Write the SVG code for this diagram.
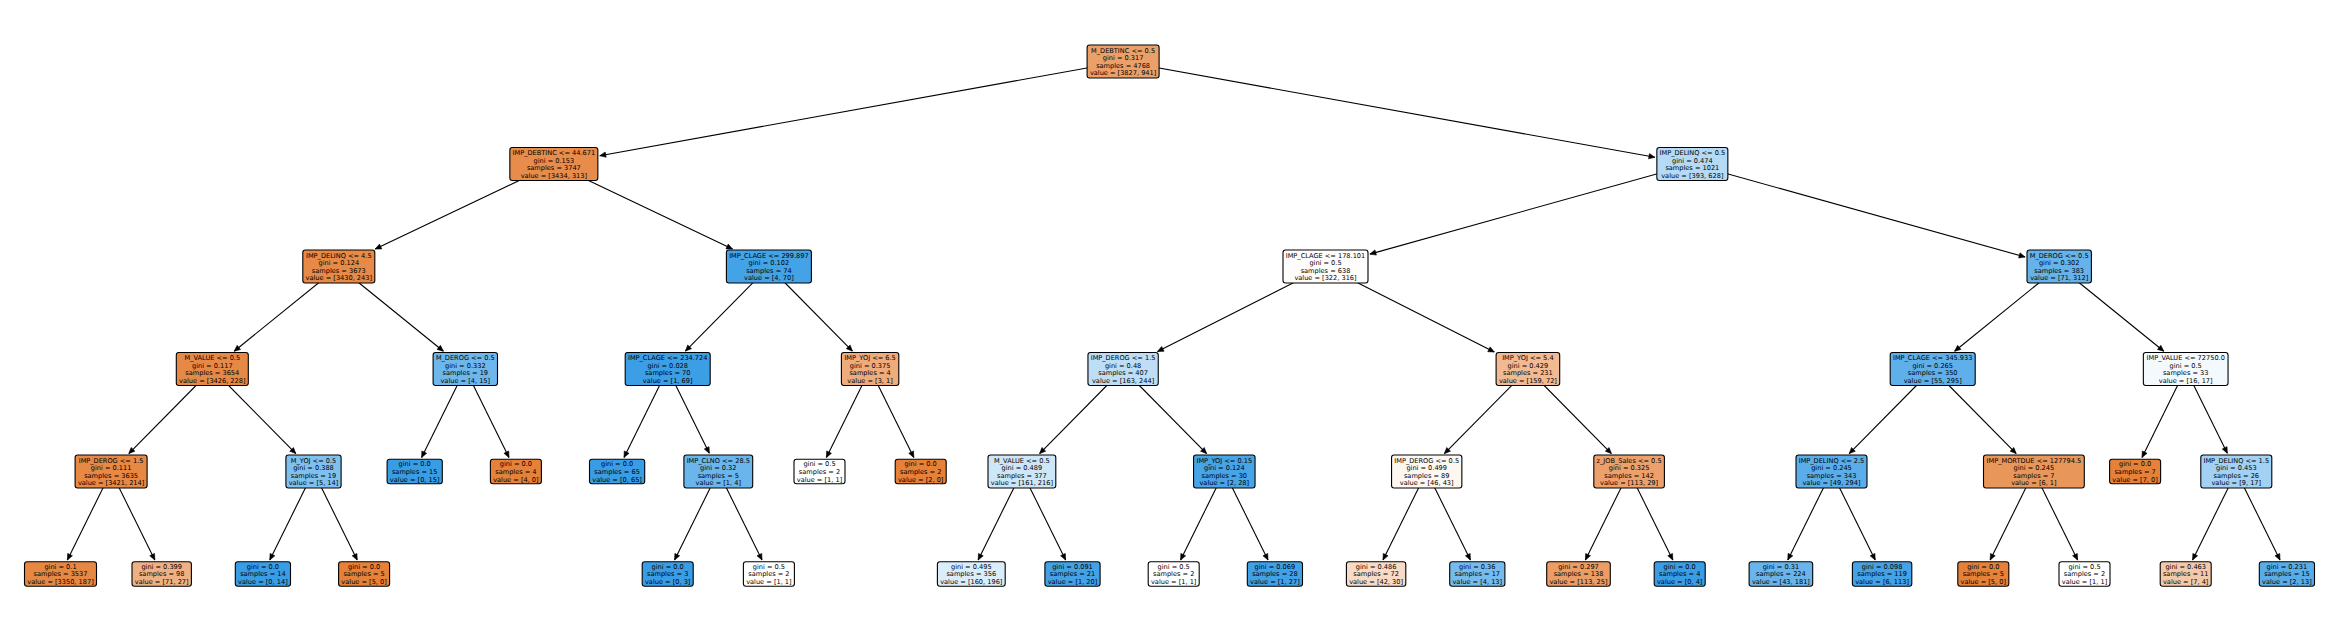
<svg xmlns="http://www.w3.org/2000/svg" width="2345" height="636" viewBox="0 0 2345 636">
<style>
.bg{fill:#ffffff}
.n rect{stroke:#000;stroke-width:1.1}
.n text{font-family:"DejaVu Sans","Liberation Sans",sans-serif;font-size:6.6px;fill:#000;text-anchor:middle}
.e line{stroke:#000;stroke-width:1.1;marker-end:url(#ah)}
</style>
<defs>
<marker id="ah" markerUnits="userSpaceOnUse" markerWidth="8" markerHeight="8" refX="0" refY="0" viewBox="-5 -3 6 6" orient="auto" overflow="visible">
<path d="M-4.5,-2 L0,0 L-4.5,2 Z" fill="#000" stroke="#000" stroke-width="0.4"/>
</marker>
</defs>
<rect class="bg" x="0" y="0" width="2345" height="636"/>
<g id="connectors" class="e">
<line x1="1123.1" y1="61.5" x2="599.8" y2="155.7"/>
<line x1="1123.1" y1="61.5" x2="1654.9" y2="157.3"/>
<line x1="553.85" y1="164" x2="375.2" y2="249.1"/>
<line x1="553.85" y1="164" x2="732.5" y2="249.1"/>
<line x1="1692.35" y1="164" x2="1369.9" y2="254.1"/>
<line x1="1692.35" y1="164" x2="2025.1" y2="257"/>
<line x1="338.8" y1="266.5" x2="234.2" y2="351.2"/>
<line x1="338.8" y1="266.5" x2="443.4" y2="351.2"/>
<line x1="768.9" y1="266.5" x2="685.4" y2="351.1"/>
<line x1="768.9" y1="266.5" x2="852.4" y2="351.1"/>
<line x1="1325.5" y1="266.5" x2="1157.5" y2="351.6"/>
<line x1="1325.5" y1="266.5" x2="1494.3" y2="352"/>
<line x1="2059.2" y1="266.5" x2="1954.6" y2="351.2"/>
<line x1="2059.2" y1="266.5" x2="2163.8" y2="351.2"/>
<line x1="212.3" y1="369" x2="128.8" y2="453.6"/>
<line x1="212.3" y1="369" x2="295.8" y2="453.6"/>
<line x1="465.3" y1="369" x2="421.6" y2="457.5"/>
<line x1="465.3" y1="369" x2="509" y2="457.5"/>
<line x1="667.7" y1="369" x2="624" y2="457.5"/>
<line x1="667.7" y1="369" x2="709.3" y2="453.2"/>
<line x1="870.1" y1="369" x2="826.4" y2="457.5"/>
<line x1="870.1" y1="369" x2="913.8" y2="457.5"/>
<line x1="1123.1" y1="369" x2="1039.6" y2="453.6"/>
<line x1="1123.1" y1="369" x2="1206.6" y2="453.6"/>
<line x1="1527.9" y1="369" x2="1444.4" y2="453.6"/>
<line x1="1527.9" y1="369" x2="1611.4" y2="453.6"/>
<line x1="1932.7" y1="369" x2="1849.2" y2="453.6"/>
<line x1="1932.7" y1="369" x2="2016.2" y2="453.6"/>
<line x1="2185.7" y1="369" x2="2142" y2="457.5"/>
<line x1="2185.7" y1="369" x2="2227.3" y2="453.2"/>
<line x1="111.1" y1="471.5" x2="67.4" y2="560"/>
<line x1="111.1" y1="471.5" x2="154.8" y2="560"/>
<line x1="313.5" y1="471.5" x2="269.8" y2="560"/>
<line x1="313.5" y1="471.5" x2="357.2" y2="560"/>
<line x1="718.3" y1="471.5" x2="674.6" y2="560"/>
<line x1="718.3" y1="471.5" x2="762" y2="560"/>
<line x1="1021.9" y1="471.5" x2="978.2" y2="560"/>
<line x1="1021.9" y1="471.5" x2="1065.6" y2="560"/>
<line x1="1224.3" y1="471.5" x2="1180.6" y2="560"/>
<line x1="1224.3" y1="471.5" x2="1268" y2="560"/>
<line x1="1426.7" y1="471.5" x2="1383" y2="560"/>
<line x1="1426.7" y1="471.5" x2="1470.4" y2="560"/>
<line x1="1629.1" y1="471.5" x2="1585.4" y2="560"/>
<line x1="1629.1" y1="471.5" x2="1672.8" y2="560"/>
<line x1="1831.5" y1="471.5" x2="1787.8" y2="560"/>
<line x1="1831.5" y1="471.5" x2="1875.2" y2="560"/>
<line x1="2033.9" y1="471.5" x2="1990.2" y2="560"/>
<line x1="2033.9" y1="471.5" x2="2077.6" y2="560"/>
<line x1="2236.3" y1="471.5" x2="2192.6" y2="560"/>
<line x1="2236.3" y1="471.5" x2="2280" y2="560"/>
</g>
<g id="n0" class="n"><rect x="1087.1" y="45" width="72" height="33" rx="2.5" fill="#eba06a"/><text y="52.5"><tspan x="1123.1">M_DEBTINC &lt;= 0.5</tspan><tspan x="1123.1" dy="7.6">gini = 0.317</tspan><tspan x="1123.1" dy="7.6">samples = 4768</tspan><tspan x="1123.1" dy="7.6">value = [3827, 941]</tspan></text></g>
<g id="n1" class="n"><rect x="509.85" y="147.5" width="88" height="33" rx="2.5" fill="#e78c4b"/><text y="155"><tspan x="553.85">IMP_DEBTINC &lt;= 44.671</tspan><tspan x="553.85" dy="7.6">gini = 0.153</tspan><tspan x="553.85" dy="7.6">samples = 3747</tspan><tspan x="553.85" dy="7.6">value = [3434, 313]</tspan></text></g>
<g id="n2" class="n"><rect x="1656.85" y="147.5" width="71" height="33" rx="2.5" fill="#b5daf5"/><text y="155"><tspan x="1692.35">IMP_DELINQ &lt;= 0.5</tspan><tspan x="1692.35" dy="7.6">gini = 0.474</tspan><tspan x="1692.35" dy="7.6">samples = 1021</tspan><tspan x="1692.35" dy="7.6">value = [393, 628]</tspan></text></g>
<g id="n3" class="n"><rect x="302.8" y="250" width="72" height="33" rx="2.5" fill="#e78a47"/><text y="257.5"><tspan x="338.8">IMP_DELINQ &lt;= 4.5</tspan><tspan x="338.8" dy="7.6">gini = 0.124</tspan><tspan x="338.8" dy="7.6">samples = 3673</tspan><tspan x="338.8" dy="7.6">value = [3430, 243]</tspan></text></g>
<g id="n4" class="n"><rect x="726.4" y="250" width="85" height="33" rx="2.5" fill="#44a3e6"/><text y="257.5"><tspan x="768.9">IMP_CLAGE &lt;= 299.897</tspan><tspan x="768.9" dy="7.6">gini = 0.102</tspan><tspan x="768.9" dy="7.6">samples = 74</tspan><tspan x="768.9" dy="7.6">value = [4, 70]</tspan></text></g>
<g id="n5" class="n"><rect x="1283" y="250" width="85" height="33" rx="2.5" fill="#fffdfb"/><text y="257.5"><tspan x="1325.5">IMP_CLAGE &lt;= 178.101</tspan><tspan x="1325.5" dy="7.6">gini = 0.5</tspan><tspan x="1325.5" dy="7.6">samples = 638</tspan><tspan x="1325.5" dy="7.6">value = [322, 316]</tspan></text></g>
<g id="n6" class="n"><rect x="2027" y="250" width="64.4" height="33" rx="2.5" fill="#66b3eb"/><text y="257.5"><tspan x="2059.2">M_DEROG &lt;= 0.5</tspan><tspan x="2059.2" dy="7.6">gini = 0.302</tspan><tspan x="2059.2" dy="7.6">samples = 383</tspan><tspan x="2059.2" dy="7.6">value = [71, 312]</tspan></text></g>
<g id="n7" class="n"><rect x="176.3" y="352.5" width="72" height="33" rx="2.5" fill="#e78946"/><text y="360"><tspan x="212.3">M_VALUE &lt;= 0.5</tspan><tspan x="212.3" dy="7.6">gini = 0.117</tspan><tspan x="212.3" dy="7.6">samples = 3654</tspan><tspan x="212.3" dy="7.6">value = [3426, 228]</tspan></text></g>
<g id="n8" class="n"><rect x="433.1" y="352.5" width="64.4" height="33" rx="2.5" fill="#6eb7ec"/><text y="360"><tspan x="465.3">M_DEROG &lt;= 0.5</tspan><tspan x="465.3" dy="7.6">gini = 0.332</tspan><tspan x="465.3" dy="7.6">samples = 19</tspan><tspan x="465.3" dy="7.6">value = [4, 15]</tspan></text></g>
<g id="n9" class="n"><rect x="625.2" y="352.5" width="85" height="33" rx="2.5" fill="#3c9ee5"/><text y="360"><tspan x="667.7">IMP_CLAGE &lt;= 234.724</tspan><tspan x="667.7" dy="7.6">gini = 0.028</tspan><tspan x="667.7" dy="7.6">samples = 70</tspan><tspan x="667.7" dy="7.6">value = [1, 69]</tspan></text></g>
<g id="n10" class="n"><rect x="841.4" y="352.5" width="57.4" height="33" rx="2.5" fill="#eeab7b"/><text y="360"><tspan x="870.1">IMP_YOJ &lt;= 6.5</tspan><tspan x="870.1" dy="7.6">gini = 0.375</tspan><tspan x="870.1" dy="7.6">samples = 4</tspan><tspan x="870.1" dy="7.6">value = [3, 1]</tspan></text></g>
<g id="n11" class="n"><rect x="1087.95" y="352.5" width="70.3" height="33" rx="2.5" fill="#bddef6"/><text y="360"><tspan x="1123.1">IMP_DEROG &lt;= 1.5</tspan><tspan x="1123.1" dy="7.6">gini = 0.48</tspan><tspan x="1123.1" dy="7.6">samples = 407</tspan><tspan x="1123.1" dy="7.6">value = [163, 244]</tspan></text></g>
<g id="n12" class="n"><rect x="1496.1" y="352.5" width="63.6" height="33" rx="2.5" fill="#f1ba93"/><text y="360"><tspan x="1527.9">IMP_YOJ &lt;= 5.4</tspan><tspan x="1527.9" dy="7.6">gini = 0.429</tspan><tspan x="1527.9" dy="7.6">samples = 231</tspan><tspan x="1527.9" dy="7.6">value = [159, 72]</tspan></text></g>
<g id="n13" class="n"><rect x="1890.2" y="352.5" width="85" height="33" rx="2.5" fill="#5eafea"/><text y="360"><tspan x="1932.7">IMP_CLAGE &lt;= 345.933</tspan><tspan x="1932.7" dy="7.6">gini = 0.265</tspan><tspan x="1932.7" dy="7.6">samples = 350</tspan><tspan x="1932.7" dy="7.6">value = [55, 295]</tspan></text></g>
<g id="n14" class="n"><rect x="2143.35" y="352.5" width="84.7" height="33" rx="2.5" fill="#f3f9fd"/><text y="360"><tspan x="2185.7">IMP_VALUE &lt;= 72750.0</tspan><tspan x="2185.7" dy="7.6">gini = 0.5</tspan><tspan x="2185.7" dy="7.6">samples = 33</tspan><tspan x="2185.7" dy="7.6">value = [16, 17]</tspan></text></g>
<g id="n15" class="n"><rect x="75.1" y="455" width="72" height="33" rx="2.5" fill="#e78945"/><text y="462.5"><tspan x="111.1">IMP_DEROG &lt;= 1.5</tspan><tspan x="111.1" dy="7.6">gini = 0.111</tspan><tspan x="111.1" dy="7.6">samples = 3635</tspan><tspan x="111.1" dy="7.6">value = [3421, 214]</tspan></text></g>
<g id="n16" class="n"><rect x="285.9" y="455" width="55.2" height="33" rx="2.5" fill="#80c0ee"/><text y="462.5"><tspan x="313.5">M_YOJ &lt;= 0.5</tspan><tspan x="313.5" dy="7.6">gini = 0.388</tspan><tspan x="313.5" dy="7.6">samples = 19</tspan><tspan x="313.5" dy="7.6">value = [5, 14]</tspan></text></g>
<g id="n17" class="n"><rect x="387.1" y="459.25" width="55.2" height="24.5" rx="2.5" fill="#399de5"/><text y="466.3"><tspan x="414.7">gini = 0.0</tspan><tspan x="414.7" dy="7.6">samples = 15</tspan><tspan x="414.7" dy="7.6">value = [0, 15]</tspan></text></g>
<g id="n18" class="n"><rect x="490.4" y="459.25" width="51" height="24.5" rx="2.5" fill="#e58139"/><text y="466.3"><tspan x="515.9">gini = 0.0</tspan><tspan x="515.9" dy="7.6">samples = 4</tspan><tspan x="515.9" dy="7.6">value = [4, 0]</tspan></text></g>
<g id="n19" class="n"><rect x="589.5" y="459.25" width="55.2" height="24.5" rx="2.5" fill="#399de5"/><text y="466.3"><tspan x="617.1">gini = 0.0</tspan><tspan x="617.1" dy="7.6">samples = 65</tspan><tspan x="617.1" dy="7.6">value = [0, 65]</tspan></text></g>
<g id="n20" class="n"><rect x="683.9" y="455" width="68.8" height="33" rx="2.5" fill="#6ab6ec"/><text y="462.5"><tspan x="718.3">IMP_CLNO &lt;= 28.5</tspan><tspan x="718.3" dy="7.6">gini = 0.32</tspan><tspan x="718.3" dy="7.6">samples = 5</tspan><tspan x="718.3" dy="7.6">value = [1, 4]</tspan></text></g>
<g id="n21" class="n"><rect x="794" y="459.25" width="51" height="24.5" rx="2.5" fill="#ffffff"/><text y="466.3"><tspan x="819.5">gini = 0.5</tspan><tspan x="819.5" dy="7.6">samples = 2</tspan><tspan x="819.5" dy="7.6">value = [1, 1]</tspan></text></g>
<g id="n22" class="n"><rect x="895.2" y="459.25" width="51" height="24.5" rx="2.5" fill="#e58139"/><text y="466.3"><tspan x="920.7">gini = 0.0</tspan><tspan x="920.7" dy="7.6">samples = 2</tspan><tspan x="920.7" dy="7.6">value = [2, 0]</tspan></text></g>
<g id="n23" class="n"><rect x="988" y="455" width="67.8" height="33" rx="2.5" fill="#cde6f8"/><text y="462.5"><tspan x="1021.9">M_VALUE &lt;= 0.5</tspan><tspan x="1021.9" dy="7.6">gini = 0.489</tspan><tspan x="1021.9" dy="7.6">samples = 377</tspan><tspan x="1021.9" dy="7.6">value = [161, 216]</tspan></text></g>
<g id="n24" class="n"><rect x="1193.55" y="455" width="61.5" height="33" rx="2.5" fill="#47a4e7"/><text y="462.5"><tspan x="1224.3">IMP_YOJ &lt;= 0.15</tspan><tspan x="1224.3" dy="7.6">gini = 0.124</tspan><tspan x="1224.3" dy="7.6">samples = 30</tspan><tspan x="1224.3" dy="7.6">value = [2, 28]</tspan></text></g>
<g id="n25" class="n"><rect x="1391.55" y="455" width="70.3" height="33" rx="2.5" fill="#fdf7f2"/><text y="462.5"><tspan x="1426.7">IMP_DEROG &lt;= 0.5</tspan><tspan x="1426.7" dy="7.6">gini = 0.499</tspan><tspan x="1426.7" dy="7.6">samples = 89</tspan><tspan x="1426.7" dy="7.6">value = [46, 43]</tspan></text></g>
<g id="n26" class="n"><rect x="1593.8" y="455" width="70.6" height="33" rx="2.5" fill="#eca16c"/><text y="462.5"><tspan x="1629.1">z_JOB_Sales &lt;= 0.5</tspan><tspan x="1629.1" dy="7.6">gini = 0.325</tspan><tspan x="1629.1" dy="7.6">samples = 142</tspan><tspan x="1629.1" dy="7.6">value = [113, 29]</tspan></text></g>
<g id="n27" class="n"><rect x="1796" y="455" width="71" height="33" rx="2.5" fill="#5aade9"/><text y="462.5"><tspan x="1831.5">IMP_DELINQ &lt;= 2.5</tspan><tspan x="1831.5" dy="7.6">gini = 0.245</tspan><tspan x="1831.5" dy="7.6">samples = 343</tspan><tspan x="1831.5" dy="7.6">value = [49, 294]</tspan></text></g>
<g id="n28" class="n"><rect x="1983.5" y="455" width="100.8" height="33" rx="2.5" fill="#e9965a"/><text y="462.5"><tspan x="2033.9">IMP_MORTDUE &lt;= 127794.5</tspan><tspan x="2033.9" dy="7.6">gini = 0.245</tspan><tspan x="2033.9" dy="7.6">samples = 7</tspan><tspan x="2033.9" dy="7.6">value = [6, 1]</tspan></text></g>
<g id="n29" class="n"><rect x="2109.6" y="459.25" width="51" height="24.5" rx="2.5" fill="#e58139"/><text y="466.3"><tspan x="2135.1">gini = 0.0</tspan><tspan x="2135.1" dy="7.6">samples = 7</tspan><tspan x="2135.1" dy="7.6">value = [7, 0]</tspan></text></g>
<g id="n30" class="n"><rect x="2200.8" y="455" width="71" height="33" rx="2.5" fill="#a2d1f3"/><text y="462.5"><tspan x="2236.3">IMP_DELINQ &lt;= 1.5</tspan><tspan x="2236.3" dy="7.6">gini = 0.453</tspan><tspan x="2236.3" dy="7.6">samples = 26</tspan><tspan x="2236.3" dy="7.6">value = [9, 17]</tspan></text></g>
<g id="n31" class="n"><rect x="24.5" y="561.75" width="72" height="24.5" rx="2.5" fill="#e68844"/><text y="568.8"><tspan x="60.5">gini = 0.1</tspan><tspan x="60.5" dy="7.6">samples = 3537</tspan><tspan x="60.5" dy="7.6">value = [3350, 187]</tspan></text></g>
<g id="n32" class="n"><rect x="132" y="561.75" width="59.4" height="24.5" rx="2.5" fill="#efb184"/><text y="568.8"><tspan x="161.7">gini = 0.399</tspan><tspan x="161.7" dy="7.6">samples = 98</tspan><tspan x="161.7" dy="7.6">value = [71, 27]</tspan></text></g>
<g id="n33" class="n"><rect x="235.3" y="561.75" width="55.2" height="24.5" rx="2.5" fill="#399de5"/><text y="568.8"><tspan x="262.9">gini = 0.0</tspan><tspan x="262.9" dy="7.6">samples = 14</tspan><tspan x="262.9" dy="7.6">value = [0, 14]</tspan></text></g>
<g id="n34" class="n"><rect x="338.6" y="561.75" width="51" height="24.5" rx="2.5" fill="#e58139"/><text y="568.8"><tspan x="364.1">gini = 0.0</tspan><tspan x="364.1" dy="7.6">samples = 5</tspan><tspan x="364.1" dy="7.6">value = [5, 0]</tspan></text></g>
<g id="n35" class="n"><rect x="642.2" y="561.75" width="51" height="24.5" rx="2.5" fill="#399de5"/><text y="568.8"><tspan x="667.7">gini = 0.0</tspan><tspan x="667.7" dy="7.6">samples = 3</tspan><tspan x="667.7" dy="7.6">value = [0, 3]</tspan></text></g>
<g id="n36" class="n"><rect x="743.4" y="561.75" width="51" height="24.5" rx="2.5" fill="#ffffff"/><text y="568.8"><tspan x="768.9">gini = 0.5</tspan><tspan x="768.9" dy="7.6">samples = 2</tspan><tspan x="768.9" dy="7.6">value = [1, 1]</tspan></text></g>
<g id="n37" class="n"><rect x="937.4" y="561.75" width="67.8" height="24.5" rx="2.5" fill="#dbedfa"/><text y="568.8"><tspan x="971.3">gini = 0.495</tspan><tspan x="971.3" dy="7.6">samples = 356</tspan><tspan x="971.3" dy="7.6">value = [160, 196]</tspan></text></g>
<g id="n38" class="n"><rect x="1044.9" y="561.75" width="55.2" height="24.5" rx="2.5" fill="#43a2e6"/><text y="568.8"><tspan x="1072.5">gini = 0.091</tspan><tspan x="1072.5" dy="7.6">samples = 21</tspan><tspan x="1072.5" dy="7.6">value = [1, 20]</tspan></text></g>
<g id="n39" class="n"><rect x="1148.2" y="561.75" width="51" height="24.5" rx="2.5" fill="#ffffff"/><text y="568.8"><tspan x="1173.7">gini = 0.5</tspan><tspan x="1173.7" dy="7.6">samples = 2</tspan><tspan x="1173.7" dy="7.6">value = [1, 1]</tspan></text></g>
<g id="n40" class="n"><rect x="1247.3" y="561.75" width="55.2" height="24.5" rx="2.5" fill="#40a1e6"/><text y="568.8"><tspan x="1274.9">gini = 0.069</tspan><tspan x="1274.9" dy="7.6">samples = 28</tspan><tspan x="1274.9" dy="7.6">value = [1, 27]</tspan></text></g>
<g id="n41" class="n"><rect x="1346.4" y="561.75" width="59.4" height="24.5" rx="2.5" fill="#f8dbc6"/><text y="568.8"><tspan x="1376.1">gini = 0.486</tspan><tspan x="1376.1" dy="7.6">samples = 72</tspan><tspan x="1376.1" dy="7.6">value = [42, 30]</tspan></text></g>
<g id="n42" class="n"><rect x="1449.7" y="561.75" width="55.2" height="24.5" rx="2.5" fill="#76bbed"/><text y="568.8"><tspan x="1477.3">gini = 0.36</tspan><tspan x="1477.3" dy="7.6">samples = 17</tspan><tspan x="1477.3" dy="7.6">value = [4, 13]</tspan></text></g>
<g id="n43" class="n"><rect x="1546.7" y="561.75" width="63.6" height="24.5" rx="2.5" fill="#eb9d65"/><text y="568.8"><tspan x="1578.5">gini = 0.297</tspan><tspan x="1578.5" dy="7.6">samples = 138</tspan><tspan x="1578.5" dy="7.6">value = [113, 25]</tspan></text></g>
<g id="n44" class="n"><rect x="1654.2" y="561.75" width="51" height="24.5" rx="2.5" fill="#399de5"/><text y="568.8"><tspan x="1679.7">gini = 0.0</tspan><tspan x="1679.7" dy="7.6">samples = 4</tspan><tspan x="1679.7" dy="7.6">value = [0, 4]</tspan></text></g>
<g id="n45" class="n"><rect x="1749.1" y="561.75" width="63.6" height="24.5" rx="2.5" fill="#68b4eb"/><text y="568.8"><tspan x="1780.9">gini = 0.31</tspan><tspan x="1780.9" dy="7.6">samples = 224</tspan><tspan x="1780.9" dy="7.6">value = [43, 181]</tspan></text></g>
<g id="n46" class="n"><rect x="1852.4" y="561.75" width="59.4" height="24.5" rx="2.5" fill="#44a2e6"/><text y="568.8"><tspan x="1882.1">gini = 0.098</tspan><tspan x="1882.1" dy="7.6">samples = 119</tspan><tspan x="1882.1" dy="7.6">value = [6, 113]</tspan></text></g>
<g id="n47" class="n"><rect x="1957.8" y="561.75" width="51" height="24.5" rx="2.5" fill="#e58139"/><text y="568.8"><tspan x="1983.3">gini = 0.0</tspan><tspan x="1983.3" dy="7.6">samples = 5</tspan><tspan x="1983.3" dy="7.6">value = [5, 0]</tspan></text></g>
<g id="n48" class="n"><rect x="2059" y="561.75" width="51" height="24.5" rx="2.5" fill="#ffffff"/><text y="568.8"><tspan x="2084.5">gini = 0.5</tspan><tspan x="2084.5" dy="7.6">samples = 2</tspan><tspan x="2084.5" dy="7.6">value = [1, 1]</tspan></text></g>
<g id="n49" class="n"><rect x="2160.2" y="561.75" width="51" height="24.5" rx="2.5" fill="#f4c9aa"/><text y="568.8"><tspan x="2185.7">gini = 0.463</tspan><tspan x="2185.7" dy="7.6">samples = 11</tspan><tspan x="2185.7" dy="7.6">value = [7, 4]</tspan></text></g>
<g id="n50" class="n"><rect x="2259.3" y="561.75" width="55.2" height="24.5" rx="2.5" fill="#57ace9"/><text y="568.8"><tspan x="2286.9">gini = 0.231</tspan><tspan x="2286.9" dy="7.6">samples = 15</tspan><tspan x="2286.9" dy="7.6">value = [2, 13]</tspan></text></g>
</svg>
